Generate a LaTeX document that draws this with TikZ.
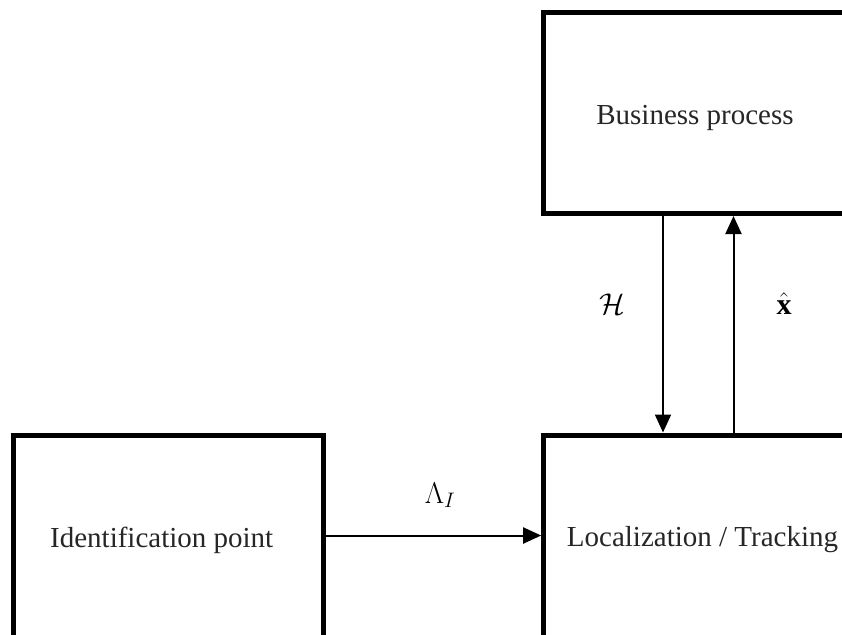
\RequirePackage{fix-cm}
\documentclass[tikz,border=0pt]{standalone}
\usepackage{fontspec}
\setmainfont{Liberation Serif}
\usetikzlibrary{arrows.meta}
\tikzset{
  blockbox/.style={draw=black, line width=5pt, minimum width=310pt, minimum height=201pt, inner sep=0pt},
  blocktext/.style={font=\fontsize{29}{34}\selectfont, text=black!85, inner sep=0pt},
  flow/.style={line width=2pt, -{Triangle[length=18pt,width=16pt]}},
  mathlbl/.style={font=\fontsize{30}{36}\selectfont, inner sep=0pt}
}
\begin{document}
\begin{tikzpicture}[x=1pt,y=-1pt]
  \useasboundingbox (0,0) rectangle (842,634);
  \clip (0,0) rectangle (842,634);
  \fill[white] (0,0) rectangle (842,634);

  % blocks
  \node[blockbox] (bp)  at (698.5,113) {};
  \node[blockbox, minimum height=215pt] (idp) at (168.6,542.5) {};
  \node[blockbox, minimum height=215pt] (loc) at (698.7,542.5) {};

  % block titles
  \node[blocktext] (bpt)  at (695,118) {Business process};
  \node[blocktext] (idpt) at (161.7,540) {Identification point};
  \node[blocktext] (loct) at (702.5,540) {Localization / Tracking};

  % connectors
  \coordinate (hx) at (663,0);
  \coordinate (xx) at (733.5,0);
  \coordinate (ly) at (0,535.5);
  \draw[flow] (bp.south -| hx) -- (loc.north -| hx);
  \draw[flow] (loc.north -| xx) -- (bp.south -| xx);
  \draw[flow] (idp.east |- ly) -- (loc.west |- ly);

  % connector labels
  \node[mathlbl] (lh) at (612.8,304) {$\mathcal{H}$};
  \node[mathlbl] (lx) at (784,304) {$\hat{\mathbf{x}}$};
  \node[mathlbl] (ll) at (440,495) {$\Lambda_I$};
\end{tikzpicture}
\end{document}
